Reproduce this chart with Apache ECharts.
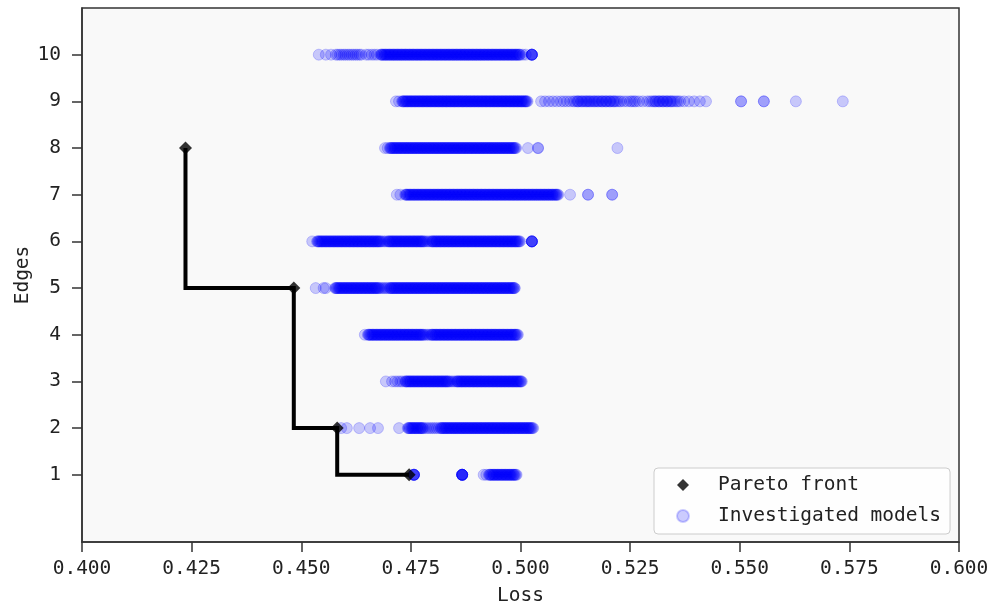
<!DOCTYPE html>
<html>
<head>
<meta charset="utf-8">
<script src="https://cdn.jsdelivr.net/npm/echarts@6/dist/echarts.min.js"></script>
<style>
  html, body { margin: 0; padding: 0; background: #ffffff; }
  #chart { width: 987px; height: 605px; }
</style>
</head>
<body>
<div id="chart"></div>
<script>
// Edge counts (y rows / tick labels)
const edgeTicks = [1, 2, 3, 4, 5, 6, 7, 8, 9, 10];

// Pareto-optimal models (loss, edges)
const paretoLoss = [0.4236, 0.4483, 0.4582, 0.4746];
const paretoEdges = [8, 5, 2, 1];

// Losses of every investigated model, one list per edge count
const loss1 = [0.4757,0.4757,0.4757,0.4757,0.4757,0.4757,
  0.4867,0.4867,0.4867,0.4867,0.4867,0.4867,0.4867,0.4867,
  0.4916,0.4922,
  0.4928,0.4930,0.4931,0.4933,0.4935,0.4937,0.4939,0.4940,0.4942,0.4944,0.4946,0.4948,0.4949,0.4951,0.4953,
  0.4955,0.4957,0.4958,0.4960,0.4962,0.4964,0.4966,0.4967,0.4969,0.4971,0.4973,0.4975,0.4976,0.4978,0.4980,
  0.4982,0.4984,0.4985,0.4987,0.4989,0.4991];

const loss2 = [0.4591,0.4604,0.4632,0.4657,0.4675,0.4723,
  0.4743,0.4745,0.4746,0.4748,0.4750,0.4752,0.4754,0.4755,0.4757,0.4759,0.4761,0.4763,0.4764,0.4766,0.4768,
  0.4770,0.4772,0.4773,0.4775,0.4777,0.4779,
  0.4784,0.4789,0.4794,0.4799,0.4804,0.4809,0.4814,
  0.4818,0.4820,0.4821,0.4823,0.4825,0.4827,0.4829,0.4830,0.4832,0.4834,0.4836,0.4838,0.4839,0.4841,0.4843,
  0.4845,0.4847,0.4848,0.4850,0.4852,0.4854,0.4856,0.4857,0.4859,0.4861,0.4863,0.4865,0.4866,0.4868,0.4870,
  0.4872,0.4874,0.4875,0.4877,0.4879,0.4881,0.4883,0.4884,0.4886,0.4888,0.4890,0.4892,0.4893,0.4895,0.4897,
  0.4899,0.4901,0.4902,0.4904,0.4906,0.4908,0.4910,0.4911,0.4913,0.4915,0.4917,0.4919,0.4920,0.4922,0.4924,
  0.4926,0.4928,0.4929,0.4931,0.4933,0.4935,0.4937,0.4938,0.4940,0.4942,0.4944,0.4946,0.4947,0.4949,0.4951,
  0.4953,0.4955,0.4956,0.4958,0.4960,0.4962,0.4964,0.4965,0.4967,0.4969,0.4971,0.4973,0.4974,0.4976,0.4978,
  0.4980,0.4982,0.4983,0.4985,0.4987,0.4989,0.4991,0.4992,0.4994,0.4996,0.4998,0.5000,0.5001,0.5003,0.5005,
  0.5007,0.5009,0.5010,0.5012,0.5014,0.5016,0.5018,0.5019,0.5021,0.5023,0.5025,0.5027,0.5029];

const loss3 = [0.4693,0.4707,0.4714,0.4720,0.4726,0.4731,
  0.4737,0.4739,0.4740,0.4742,0.4744,0.4746,0.4748,0.4749,0.4751,0.4753,0.4755,0.4757,0.4758,0.4760,0.4762,
  0.4764,0.4766,0.4767,0.4769,0.4771,0.4773,0.4775,0.4776,0.4778,0.4780,0.4782,0.4784,0.4785,0.4787,0.4789,
  0.4791,0.4793,0.4794,0.4796,0.4798,0.4800,0.4802,0.4803,0.4805,0.4807,0.4809,0.4811,0.4812,0.4814,0.4816,
  0.4818,0.4820,0.4821,0.4823,0.4825,0.4827,0.4829,0.4830,0.4832,0.4834,0.4836,0.4838,
  0.4842,0.4846,0.4850,
  0.4854,0.4856,0.4857,0.4859,0.4861,0.4863,0.4865,0.4866,0.4868,0.4870,
  0.4872,0.4874,0.4875,0.4877,0.4879,0.4881,0.4883,0.4884,0.4886,0.4888,0.4890,0.4892,0.4893,0.4895,0.4897,
  0.4899,0.4901,0.4902,0.4904,0.4906,0.4908,0.4910,0.4911,0.4913,0.4915,0.4917,0.4919,0.4920,0.4922,0.4924,
  0.4926,0.4928,0.4929,0.4931,0.4933,0.4935,0.4937,0.4938,0.4940,0.4942,0.4944,0.4946,0.4947,0.4949,0.4951,
  0.4953,0.4955,0.4956,0.4958,0.4960,0.4962,0.4964,0.4965,0.4967,0.4969,0.4971,0.4973,0.4974,0.4976,0.4978,
  0.4980,0.4982,0.4983,0.4985,0.4987,0.4989,0.4991,0.4992,0.4994,0.4996,0.4998,0.5000,0.5001,0.5003];

const loss4 = [0.4645,
  0.4652,0.4654,0.4655,0.4657,0.4659,0.4661,0.4663,0.4664,0.4666,0.4668,0.4670,0.4672,0.4673,0.4675,0.4677,
  0.4679,0.4681,0.4682,0.4684,0.4686,0.4688,0.4690,0.4691,0.4693,0.4695,0.4697,0.4699,0.4700,0.4702,0.4704,
  0.4706,0.4708,0.4709,0.4711,0.4713,0.4715,0.4717,0.4718,0.4720,0.4722,0.4724,0.4726,0.4727,0.4729,0.4731,
  0.4733,0.4735,0.4736,0.4738,0.4740,0.4742,0.4744,0.4745,0.4747,0.4749,0.4751,0.4753,0.4754,0.4756,0.4758,
  0.4760,0.4762,0.4763,0.4765,0.4767,0.4769,0.4771,0.4772,0.4774,0.4776,0.4778,0.4780,
  0.4784,0.4788,0.4792,
  0.4796,0.4798,0.4799,0.4801,0.4803,0.4805,0.4807,0.4808,0.4810,0.4812,0.4814,0.4816,0.4817,0.4819,0.4821,
  0.4823,0.4825,0.4826,0.4828,0.4830,0.4832,0.4834,0.4835,0.4837,0.4839,0.4841,0.4843,0.4844,0.4846,0.4848,
  0.4850,0.4852,0.4853,0.4855,0.4857,0.4859,0.4861,0.4862,0.4864,0.4866,0.4868,0.4870,0.4871,0.4873,0.4875,
  0.4877,0.4879,0.4880,0.4882,0.4884,0.4886,0.4888,0.4889,0.4891,0.4893,0.4895,0.4897,0.4898,0.4900,0.4902,
  0.4904,0.4906,0.4907,0.4909,0.4911,0.4913,0.4915,0.4916,0.4918,0.4920,0.4922,0.4924,0.4925,0.4927,0.4929,
  0.4931,0.4933,0.4934,0.4936,0.4938,0.4940,0.4942,0.4943,0.4945,0.4947,0.4949,0.4951,0.4952,0.4954,0.4956,
  0.4958,0.4960,0.4961,0.4963,0.4965,0.4967,0.4969,0.4970,0.4972,0.4974,0.4976,0.4978,0.4979,0.4981,0.4983,
  0.4985,0.4987,0.4988,0.4990,0.4992,0.4994];

const loss5 = [0.4533,0.4551,0.4556,
  0.4577,0.4579,0.4580,0.4582,0.4584,0.4586,0.4588,0.4589,0.4591,0.4593,0.4595,0.4597,0.4598,0.4600,0.4602,
  0.4604,0.4606,0.4607,0.4609,0.4611,0.4613,0.4615,0.4616,0.4618,0.4620,0.4622,0.4624,0.4625,0.4627,0.4629,
  0.4631,0.4633,0.4634,0.4636,0.4638,0.4640,0.4642,0.4643,0.4645,0.4647,0.4649,0.4651,0.4652,0.4654,0.4656,
  0.4658,0.4660,0.4661,0.4663,0.4665,0.4667,0.4669,0.4670,0.4672,0.4674,0.4676,0.4678,
  0.4682,0.4686,0.4690,0.4694,0.4698,
  0.4702,0.4704,0.4705,0.4707,0.4709,0.4711,0.4713,0.4714,0.4716,0.4718,0.4720,0.4722,0.4723,0.4725,0.4727,
  0.4729,0.4731,0.4732,0.4734,0.4736,0.4738,0.4740,0.4741,0.4743,0.4745,0.4747,0.4749,0.4750,0.4752,0.4754,
  0.4756,0.4758,0.4759,0.4761,0.4763,0.4765,0.4767,0.4768,0.4770,0.4772,0.4774,0.4776,0.4777,0.4779,0.4781,
  0.4783,0.4785,0.4786,0.4788,0.4790,0.4792,0.4794,0.4795,0.4797,0.4799,0.4801,0.4803,0.4804,0.4806,0.4808,
  0.4810,0.4812,0.4813,0.4815,0.4817,0.4819,0.4821,0.4822,0.4824,0.4826,0.4828,0.4830,0.4831,0.4833,0.4835,
  0.4837,0.4839,0.4840,0.4842,0.4844,0.4846,0.4848,0.4849,0.4851,0.4853,0.4855,0.4857,0.4858,0.4860,0.4862,
  0.4864,0.4866,0.4867,0.4869,0.4871,0.4873,0.4875,0.4876,0.4878,0.4880,0.4882,0.4884,0.4885,0.4887,0.4889,
  0.4891,0.4893,0.4894,0.4896,0.4898,0.4900,0.4902,0.4903,0.4905,0.4907,0.4909,0.4911,0.4912,0.4914,0.4916,
  0.4918,0.4920,0.4921,0.4923,0.4925,0.4927,0.4929,0.4930,0.4932,0.4934,0.4936,0.4938,0.4939,0.4941,0.4943,
  0.4945,0.4947,0.4948,0.4950,0.4952,0.4954,0.4956,0.4957,0.4959,0.4961,0.4963,0.4965,0.4966,0.4968,0.4970,
  0.4972,0.4974,0.4975,0.4977,0.4979,0.4981,0.4983,0.4984,0.4986,0.4987];

const loss6 = [0.4525,
  0.4536,0.4538,0.4539,0.4541,0.4543,0.4545,0.4547,0.4548,0.4550,0.4552,0.4554,0.4556,0.4557,0.4559,0.4561,
  0.4563,0.4565,0.4566,0.4568,0.4570,0.4572,0.4574,0.4575,0.4577,0.4579,0.4581,0.4583,0.4584,0.4586,0.4588,
  0.4590,0.4592,0.4593,0.4595,0.4597,0.4599,0.4601,0.4602,0.4604,0.4606,0.4608,0.4610,0.4611,0.4613,0.4615,
  0.4617,0.4619,0.4620,0.4622,0.4624,0.4626,0.4628,0.4629,0.4631,0.4633,0.4635,0.4637,0.4638,0.4640,0.4642,
  0.4644,0.4646,0.4647,0.4649,0.4651,0.4653,0.4655,0.4656,0.4658,0.4660,0.4662,0.4664,0.4665,0.4667,0.4669,
  0.4671,0.4673,0.4674,0.4676,0.4678,0.4680,0.4682,
  0.4686,0.4690,0.4694,
  0.4698,0.4700,0.4701,0.4703,0.4705,0.4707,0.4709,0.4710,0.4712,0.4714,0.4716,0.4718,0.4719,0.4721,0.4723,
  0.4725,0.4727,0.4728,0.4730,0.4732,0.4734,0.4736,0.4737,0.4739,0.4741,0.4743,0.4745,0.4746,0.4748,0.4750,
  0.4752,0.4754,0.4755,0.4757,0.4759,0.4761,0.4763,0.4764,0.4766,0.4768,0.4770,0.4772,0.4773,0.4775,0.4777,
  0.4779,0.4781,
  0.4785,0.4789,0.4793,
  0.4797,0.4799,0.4800,0.4802,0.4804,0.4806,0.4808,0.4809,0.4811,0.4813,0.4815,0.4817,0.4818,0.4820,0.4822,
  0.4824,0.4826,0.4827,0.4829,0.4831,0.4833,0.4835,0.4836,0.4838,0.4840,0.4842,0.4844,0.4845,0.4847,0.4849,
  0.4851,0.4853,0.4854,0.4856,0.4858,0.4860,0.4862,0.4863,0.4865,0.4867,0.4869,0.4871,0.4872,0.4874,0.4876,
  0.4878,0.4880,0.4881,0.4883,0.4885,0.4887,0.4889,0.4890,0.4892,0.4894,0.4896,0.4898,0.4899,0.4901,0.4903,
  0.4905,0.4907,0.4908,0.4910,0.4912,0.4914,0.4916,0.4917,0.4919,0.4921,0.4923,0.4925,0.4926,0.4928,0.4930,
  0.4932,0.4934,0.4935,0.4937,0.4939,0.4941,0.4943,0.4944,0.4946,0.4948,0.4950,0.4952,0.4953,0.4955,0.4957,
  0.4959,0.4961,0.4962,0.4964,0.4966,0.4968,0.4970,0.4971,0.4973,0.4975,0.4977,0.4979,0.4980,0.4982,0.4984,
  0.4986,0.4988,0.4989,0.4991,0.4993,0.4995,0.4997,0.4999,
  0.5026,0.5026,0.5026,0.5026,0.5026,0.5026];

const loss7 = [0.4718,0.4726,
  0.4737,0.4739,0.4740,0.4742,0.4744,0.4746,0.4748,0.4749,0.4751,0.4753,0.4755,0.4757,0.4758,0.4760,0.4762,
  0.4764,0.4766,0.4767,0.4769,0.4771,0.4773,0.4775,0.4776,0.4778,0.4780,0.4782,0.4784,0.4785,0.4787,0.4789,
  0.4791,0.4793,0.4794,0.4796,0.4798,0.4800,0.4802,0.4803,0.4805,0.4807,0.4809,0.4811,0.4812,0.4814,0.4816,
  0.4818,0.4820,0.4821,0.4823,0.4825,0.4827,0.4829,0.4830,0.4832,0.4834,0.4836,0.4838,0.4839,0.4841,0.4843,
  0.4845,0.4847,0.4848,0.4850,0.4852,0.4854,0.4856,0.4857,0.4859,0.4861,0.4863,0.4865,0.4866,0.4868,0.4870,
  0.4872,0.4874,0.4875,0.4877,0.4879,0.4881,0.4883,0.4884,0.4886,0.4888,0.4890,0.4892,0.4893,0.4895,0.4897,
  0.4899,0.4901,0.4902,0.4904,0.4906,0.4908,0.4910,0.4911,0.4913,0.4915,0.4917,0.4919,0.4920,0.4922,0.4924,
  0.4926,0.4928,0.4929,0.4931,0.4933,0.4935,0.4937,0.4938,0.4940,0.4942,0.4944,0.4946,0.4947,0.4949,0.4951,
  0.4953,0.4955,0.4956,0.4958,0.4960,0.4962,0.4964,0.4965,0.4967,0.4969,0.4971,0.4973,0.4974,0.4976,0.4978,
  0.4980,0.4982,0.4983,0.4985,0.4987,0.4989,0.4991,0.4992,0.4994,0.4996,0.4998,0.5000,0.5001,0.5003,0.5005,
  0.5007,0.5009,0.5010,0.5012,0.5014,0.5016,0.5018,0.5019,0.5021,0.5023,0.5025,0.5027,0.5028,0.5030,0.5032,
  0.5034,0.5036,0.5037,0.5039,0.5041,0.5043,0.5045,0.5046,0.5048,0.5050,0.5052,0.5054,0.5055,0.5057,0.5059,
  0.5061,0.5063,0.5064,0.5066,0.5068,0.5070,0.5072,0.5073,0.5075,0.5077,0.5079,0.5081,0.5082,0.5084,0.5086,
  0.5113,0.5154,0.5154,0.5209,0.5209];

const loss8 = [0.4691,0.4697,
  0.4702,0.4704,0.4705,0.4707,0.4709,0.4711,0.4713,0.4714,0.4716,0.4718,0.4720,0.4722,0.4723,0.4725,0.4727,
  0.4729,0.4731,0.4732,0.4734,0.4736,0.4738,0.4740,0.4741,0.4743,0.4745,0.4747,0.4749,0.4750,0.4752,0.4754,
  0.4756,0.4758,0.4759,0.4761,0.4763,0.4765,0.4767,0.4768,0.4770,0.4772,0.4774,0.4776,0.4777,0.4779,0.4781,
  0.4783,0.4785,0.4786,0.4788,0.4790,0.4792,0.4794,0.4795,0.4797,0.4799,0.4801,0.4803,0.4804,0.4806,0.4808,
  0.4810,0.4812,0.4813,0.4815,0.4817,0.4819,0.4821,0.4822,0.4824,0.4826,0.4828,0.4830,0.4831,0.4833,0.4835,
  0.4837,0.4839,0.4840,0.4842,0.4844,0.4846,0.4848,0.4849,0.4851,0.4853,0.4855,0.4857,0.4858,0.4860,0.4862,
  0.4864,0.4866,0.4867,0.4869,0.4871,0.4873,0.4875,0.4876,0.4878,0.4880,0.4882,0.4884,0.4885,0.4887,0.4889,
  0.4891,0.4893,0.4894,0.4896,0.4898,0.4900,0.4902,0.4903,0.4905,0.4907,0.4909,0.4911,0.4912,0.4914,0.4916,
  0.4918,0.4920,0.4921,0.4923,0.4925,0.4927,0.4929,0.4930,0.4932,0.4934,0.4936,0.4938,0.4939,0.4941,0.4943,
  0.4945,0.4947,0.4948,0.4950,0.4952,0.4954,0.4956,0.4957,0.4959,0.4961,0.4963,0.4965,0.4966,0.4968,0.4970,
  0.4972,0.4974,0.4975,0.4977,0.4979,0.4981,0.4983,0.4984,0.4986,0.4988,0.4990,
  0.5017,0.5040,0.5040,0.5221];

const loss9 = [0.4716,0.4723,
  0.4730,0.4732,0.4733,0.4735,0.4737,0.4739,0.4741,0.4742,0.4744,0.4746,0.4748,0.4750,0.4751,0.4753,0.4755,
  0.4757,0.4759,0.4760,0.4762,0.4764,0.4766,0.4768,0.4769,0.4771,0.4773,0.4775,0.4777,0.4778,0.4780,0.4782,
  0.4784,0.4786,0.4787,0.4789,0.4791,0.4793,0.4795,0.4796,0.4798,0.4800,0.4802,0.4804,0.4805,0.4807,0.4809,
  0.4811,0.4813,0.4814,0.4816,0.4818,0.4820,0.4822,0.4823,0.4825,0.4827,0.4829,0.4831,0.4832,0.4834,0.4836,
  0.4838,0.4840,0.4841,0.4843,0.4845,0.4847,0.4849,0.4850,0.4852,0.4854,0.4856,0.4858,0.4859,0.4861,0.4863,
  0.4865,0.4867,0.4868,0.4870,0.4872,0.4874,0.4876,0.4877,0.4879,0.4881,0.4883,0.4885,0.4886,0.4888,0.4890,
  0.4892,0.4894,0.4895,0.4897,0.4899,0.4901,0.4903,0.4904,0.4906,0.4908,0.4910,0.4912,0.4913,0.4915,0.4917,
  0.4919,0.4921,0.4922,0.4924,0.4926,0.4928,0.4930,0.4931,0.4933,0.4935,0.4937,0.4939,0.4940,0.4942,0.4944,
  0.4946,0.4948,0.4949,0.4951,0.4953,0.4955,0.4957,0.4958,0.4960,0.4962,0.4964,0.4966,0.4967,0.4969,0.4971,
  0.4973,0.4975,0.4976,0.4978,0.4980,0.4982,0.4984,0.4985,0.4987,0.4989,0.4991,0.4993,0.4994,0.4996,0.4998,
  0.5000,0.5002,0.5003,0.5005,0.5007,0.5009,0.5011,0.5012,0.5014,0.5016,
  0.5047,0.5056,0.5065,0.5074,0.5083,0.5092,0.5099,0.5106,0.5113,0.5120,0.5124,0.5129,0.5131,0.5133,0.5138,
  0.5140,0.5143,0.5147,0.5150,0.5152,0.5156,0.5158,0.5161,0.5165,0.5168,0.5170,0.5174,0.5177,0.5179,0.5184,
  0.5186,0.5188,0.5193,0.5195,0.5197,0.5202,0.5204,0.5206,0.5211,0.5213,0.5216,0.5220,0.5225,0.5229,0.5236,
  0.5243,0.5250,0.5254,0.5259,0.5263,0.5270,0.5279,0.5289,0.5295,0.5300,0.5304,0.5307,0.5309,0.5314,0.5316,
  0.5318,0.5323,0.5325,0.5327,0.5332,0.5334,0.5336,0.5341,0.5343,0.5346,0.5350,0.5355,0.5359,0.5364,0.5373,
  0.5384,0.5396,0.5409,0.5423,
  0.5503,0.5503,0.5555,0.5555,0.5628,0.5735];

const loss10 = [0.4540,0.4556,0.4568,0.4579,0.4583,0.4588,0.4592,0.4597,0.4601,0.4606,0.4610,0.4615,0.4619,
  0.4624,0.4628,0.4633,0.4637,0.4648,0.4654,0.4661,0.4667,0.4673,
  0.4681,0.4683,0.4684,0.4686,0.4688,0.4690,0.4692,0.4693,0.4695,0.4697,0.4699,0.4701,0.4702,0.4704,0.4706,
  0.4708,0.4710,0.4711,0.4713,0.4715,0.4717,0.4719,0.4720,0.4722,0.4724,0.4726,0.4728,0.4729,0.4731,0.4733,
  0.4735,0.4737,0.4738,0.4740,0.4742,0.4744,0.4746,0.4747,0.4749,0.4751,0.4753,0.4755,0.4756,0.4758,0.4760,
  0.4762,0.4764,0.4765,0.4767,0.4769,0.4771,0.4773,0.4774,0.4776,0.4778,0.4780,0.4782,0.4783,0.4785,0.4787,
  0.4789,0.4791,0.4792,0.4794,0.4796,0.4798,0.4800,0.4801,0.4803,0.4805,0.4807,0.4809,0.4810,0.4812,0.4814,
  0.4816,0.4818,0.4819,0.4821,0.4823,0.4825,0.4827,0.4828,0.4830,0.4832,0.4834,0.4836,0.4837,0.4839,0.4841,
  0.4843,0.4845,0.4846,0.4848,0.4850,0.4852,0.4854,0.4855,0.4857,0.4859,0.4861,0.4863,0.4864,0.4866,0.4868,
  0.4870,0.4872,0.4873,0.4875,0.4877,0.4879,0.4881,0.4882,0.4884,0.4886,0.4888,0.4890,0.4891,0.4893,0.4895,
  0.4897,0.4899,0.4900,0.4902,0.4904,0.4906,0.4908,0.4909,0.4911,0.4913,0.4915,0.4917,0.4918,0.4920,0.4922,
  0.4924,0.4926,0.4927,0.4929,0.4931,0.4933,0.4935,0.4936,0.4938,0.4940,0.4942,0.4944,0.4945,0.4947,0.4949,
  0.4951,0.4953,0.4954,0.4956,0.4958,0.4960,0.4962,0.4963,0.4965,0.4967,0.4969,0.4971,0.4972,0.4974,0.4976,
  0.4978,0.4980,0.4981,0.4983,0.4985,0.4987,0.4989,0.4990,0.4992,0.4994,0.4996,0.4998,0.4999,
  0.5005,0.5012,0.5026,0.5026,0.5026,0.5026,0.5026,0.5026];

// Build [loss, edges] pairs for the chart
const lossRows = [loss1, loss2, loss3, loss4, loss5, loss6, loss7, loss8, loss9, loss10];
const investigated = [];
lossRows.forEach((row, i) => row.forEach(v => investigated.push([v, edgeTicks[i]])));
const paretoPoints = paretoLoss.map((v, i) => [v, paretoEdges[i]]);

const X_MIN = 0.4, X_MAX = 0.6, Y_MIN = -0.44, Y_MAX = 11;
const mono = 'DejaVu Sans Mono';
const fontSize = 19.5;
const textColor = '#222222';
const frameColor = '#333333';

const chart = echarts.init(document.getElementById('chart'), null, { renderer: 'canvas' });
chart.setOption({
  animation: false,
  backgroundColor: '#ffffff',
  grid: {
    left: 82, right: 28, top: 8, bottom: 63,
    outerBoundsMode: 'none',
    show: true, backgroundColor: '#f9f9f9',
    borderColor: frameColor, borderWidth: 1.5
  },
  xAxis: {
    type: 'value', min: X_MIN, max: X_MAX, interval: 0.025,
    name: 'Loss', nameLocation: 'middle', nameGap: 44, nameMoveOverlap: false,
    nameTextStyle: { fontFamily: mono, fontSize: fontSize, color: textColor },
    axisLine: { show: true, onZero: false, lineStyle: { color: frameColor, width: 1.5 } },
    axisTick: { show: true, length: 10, lineStyle: { color: frameColor, width: 1.5 } },
    axisLabel: { margin: 17, fontFamily: mono, fontSize: fontSize, color: textColor,
      formatter: v => v.toFixed(3) },
    splitLine: { show: false }
  },
  yAxis: {
    type: 'value', min: Y_MIN, max: Y_MAX,
    name: 'Edges', nameLocation: 'middle', nameGap: 49, nameMoveOverlap: false,
    nameTextStyle: { fontFamily: mono, fontSize: fontSize, color: textColor },
    axisLine: { show: true, onZero: false, lineStyle: { color: frameColor, width: 1.5 } },
    axisTick: { show: true, customValues: edgeTicks, length: 10,
      lineStyle: { color: frameColor, width: 1.5 } },
    axisLabel: { customValues: edgeTicks, margin: 21, fontFamily: mono, fontSize: fontSize,
      color: textColor },
    splitLine: { show: false }
  },
  legend: {
    data: ['Pareto front', 'Investigated models'],
    orient: 'vertical', left: 654, top: 468,
    padding: [7, 9, 8, 22],
    itemWidth: 12, itemHeight: 12, itemGap: 11,
    backgroundColor: 'rgba(255,255,255,0.8)',
    borderColor: '#cccccc', borderWidth: 1, borderRadius: 4,
    selectedMode: false,
    textStyle: { fontFamily: mono, fontSize: fontSize, color: textColor, padding: [0, 0, 0, 24] }
  },
  series: [
    {
      name: 'Investigated models', type: 'scatter', data: investigated,
      symbol: 'circle', symbolSize: 11,
      itemStyle: { color: 'rgba(0,0,255,0.25)', borderColor: 'rgba(0,0,255,0.25)', borderWidth: 1 },
      progressive: 0, large: false, silent: true, z: 2
    },
    {
      type: 'line', data: paretoPoints, step: 'start',
      symbol: 'none', showSymbol: false,
      lineStyle: { color: '#000000', width: 4, join: 'miter' },
      silent: true, z: 3
    },
    {
      name: 'Pareto front', type: 'scatter', data: paretoPoints,
      symbol: 'diamond', symbolSize: 13,
      itemStyle: { color: '#000000' },
      silent: true, z: 4
    }
  ]
});
</script>
</body>
</html>
